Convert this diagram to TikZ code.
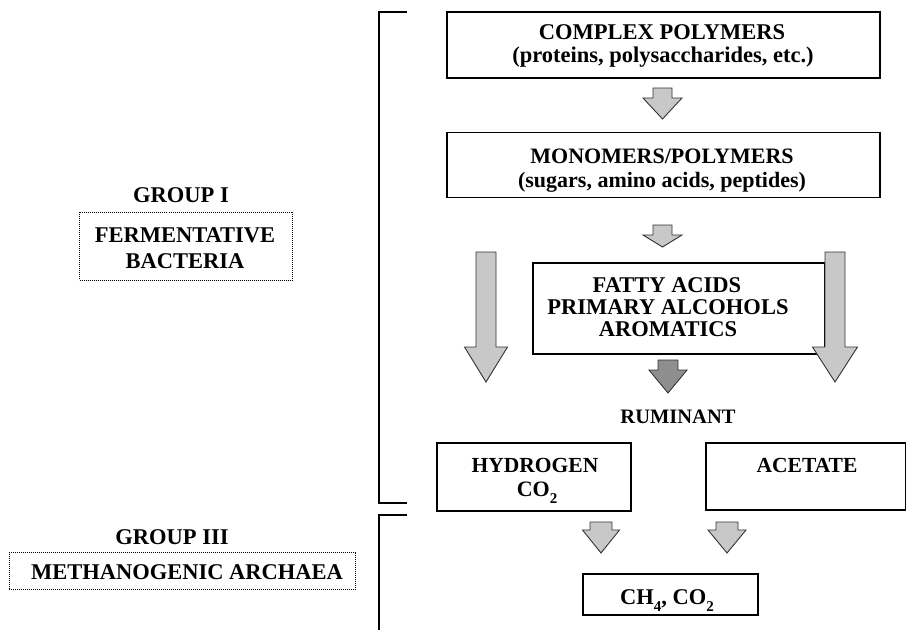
\documentclass[tikz,border=0pt]{standalone}
\usepackage{fontspec}
\setmainfont{Liberation Serif}
\newcommand\subtwo[1]{\raisebox{-0.32em}{\fontsize{15}{15}\selectfont #1}}
\begin{document}
\begin{tikzpicture}[x=1pt,y=-1pt,
  box/.style={draw=black, line width=1.3pt, inner sep=0pt},
  dotbox/.style={draw=black, line width=0.9pt, dash pattern=on 1pt off 1pt, inner sep=0pt},
  txt/.style={font=\fontsize{22.5}{24}\selectfont\bfseries, inner sep=0pt, anchor=base},
  bracket/.style={draw=black, line width=2.6pt},
  arrowline/.style={draw=black!80, line width=0.9pt, line join=miter}]
\useasboundingbox (0,0) rectangle (906,630);
\newcommand\blockarr[7]{%
  \draw[arrowline, fill=#7] (#1-#5,#2) -- (#1+#5,#2) -- (#1+#5,#3) -- (#1+#6,#3) -- (#1,#4) -- (#1-#6,#3) -- (#1-#5,#3) -- cycle;}
\definecolor{lightg}{HTML}{C8C8C8}
\definecolor{darkg}{HTML}{8E8E8E}

% brackets
\coordinate (b1a) at (407,12);
\coordinate (b1b) at (379,12);
\coordinate (b1c) at (379,503);
\coordinate (b1d) at (407,503);
\draw[bracket] (b1a) -- (b1b) -- (b1c) -- (b1d);
\coordinate (b2a) at (407,515);
\coordinate (b2b) at (379,515);
\coordinate (b2c) at (379,630);
\draw[bracket] (b2a) -- (b2b) -- (b2c);

% boxes
\node[box, minimum width=433, minimum height=66] (cp) at (663.5,45) {};
\node[txt] (cp1) at (662,39) {COMPLEX POLYMERS};
\node[txt] (cp2) at (663,62) {(proteins, polysaccharides, etc.)};

\node[box, minimum width=433, minimum height=65] (mp) at (663.5,165) {};
\node[txt, font=\fontsize{22}{24}\selectfont\bfseries] (mp1) at (662,163) {MONOMERS/POLYMERS};
\node[txt, font=\fontsize{22}{24}\selectfont\bfseries] (mp2) at (662,187) {(sugars, amino acids, peptides)};

\node[box, minimum width=292, minimum height=91] (fa) at (679,308.5) {};
\node[txt] (fa1) at (667,292) {FATTY ACIDS};
\node[txt] (fa2) at (668,314) {PRIMARY ALCOHOLS};
\node[txt] (fa3) at (668,336) {AROMATICS};

\node[txt, font=\fontsize{20.5}{24}\selectfont\bfseries] (rum) at (678,423) {RUMINANT};

\node[box, minimum width=194, minimum height=68] (hy) at (534,477) {};
\node[txt, font=\fontsize{21.5}{24}\selectfont\bfseries] (hy1) at (535,472) {HYDROGEN};
\node[txt, font=\fontsize{22}{24}\selectfont\bfseries] (hy2) at (537,496) {CO\subtwo{2}};

\node[box, minimum width=200, minimum height=67] (ac) at (806,476.5) {};
\node[txt, font=\fontsize{21.5}{24}\selectfont\bfseries] (ac1) at (807,472) {ACETATE};

\node[box, minimum width=175, minimum height=41] (ch) at (670.5,594.5) {};
\node[txt] (ch1) at (667,604) {CH\subtwo{4}, CO\subtwo{2}};

% left labels
\node[txt] (g1) at (181,202) {GROUP I};
\node[dotbox, minimum width=213, minimum height=68] (fb) at (186,246) {};
\node[txt] (fb1) at (185,242) {FERMENTATIVE};
\node[txt] (fb2) at (185,268) {BACTERIA};
\node[txt] (g3) at (172,544) {GROUP III};
\node[dotbox, minimum width=346, minimum height=37] (ma) at (182,571) {};
\node[txt] (ma1) at (187,579) {METHANOGENIC ARCHAEA};

% block arrows
\blockarr{662.5}{88}{98}{119}{9.5}{19.5}{lightg}
\blockarr{662.5}{225}{235}{247}{9.5}{19.5}{lightg}
\blockarr{486}{252}{347}{382}{10}{21.5}{lightg}
\blockarr{835}{252}{347}{382}{10}{22.5}{lightg}
\blockarr{668}{360}{370}{393}{10}{19}{darkg}
\blockarr{601}{522}{530}{553}{11}{18.5}{lightg}
\blockarr{727}{522}{530}{553}{11}{19}{lightg}
\end{tikzpicture}
\end{document}
